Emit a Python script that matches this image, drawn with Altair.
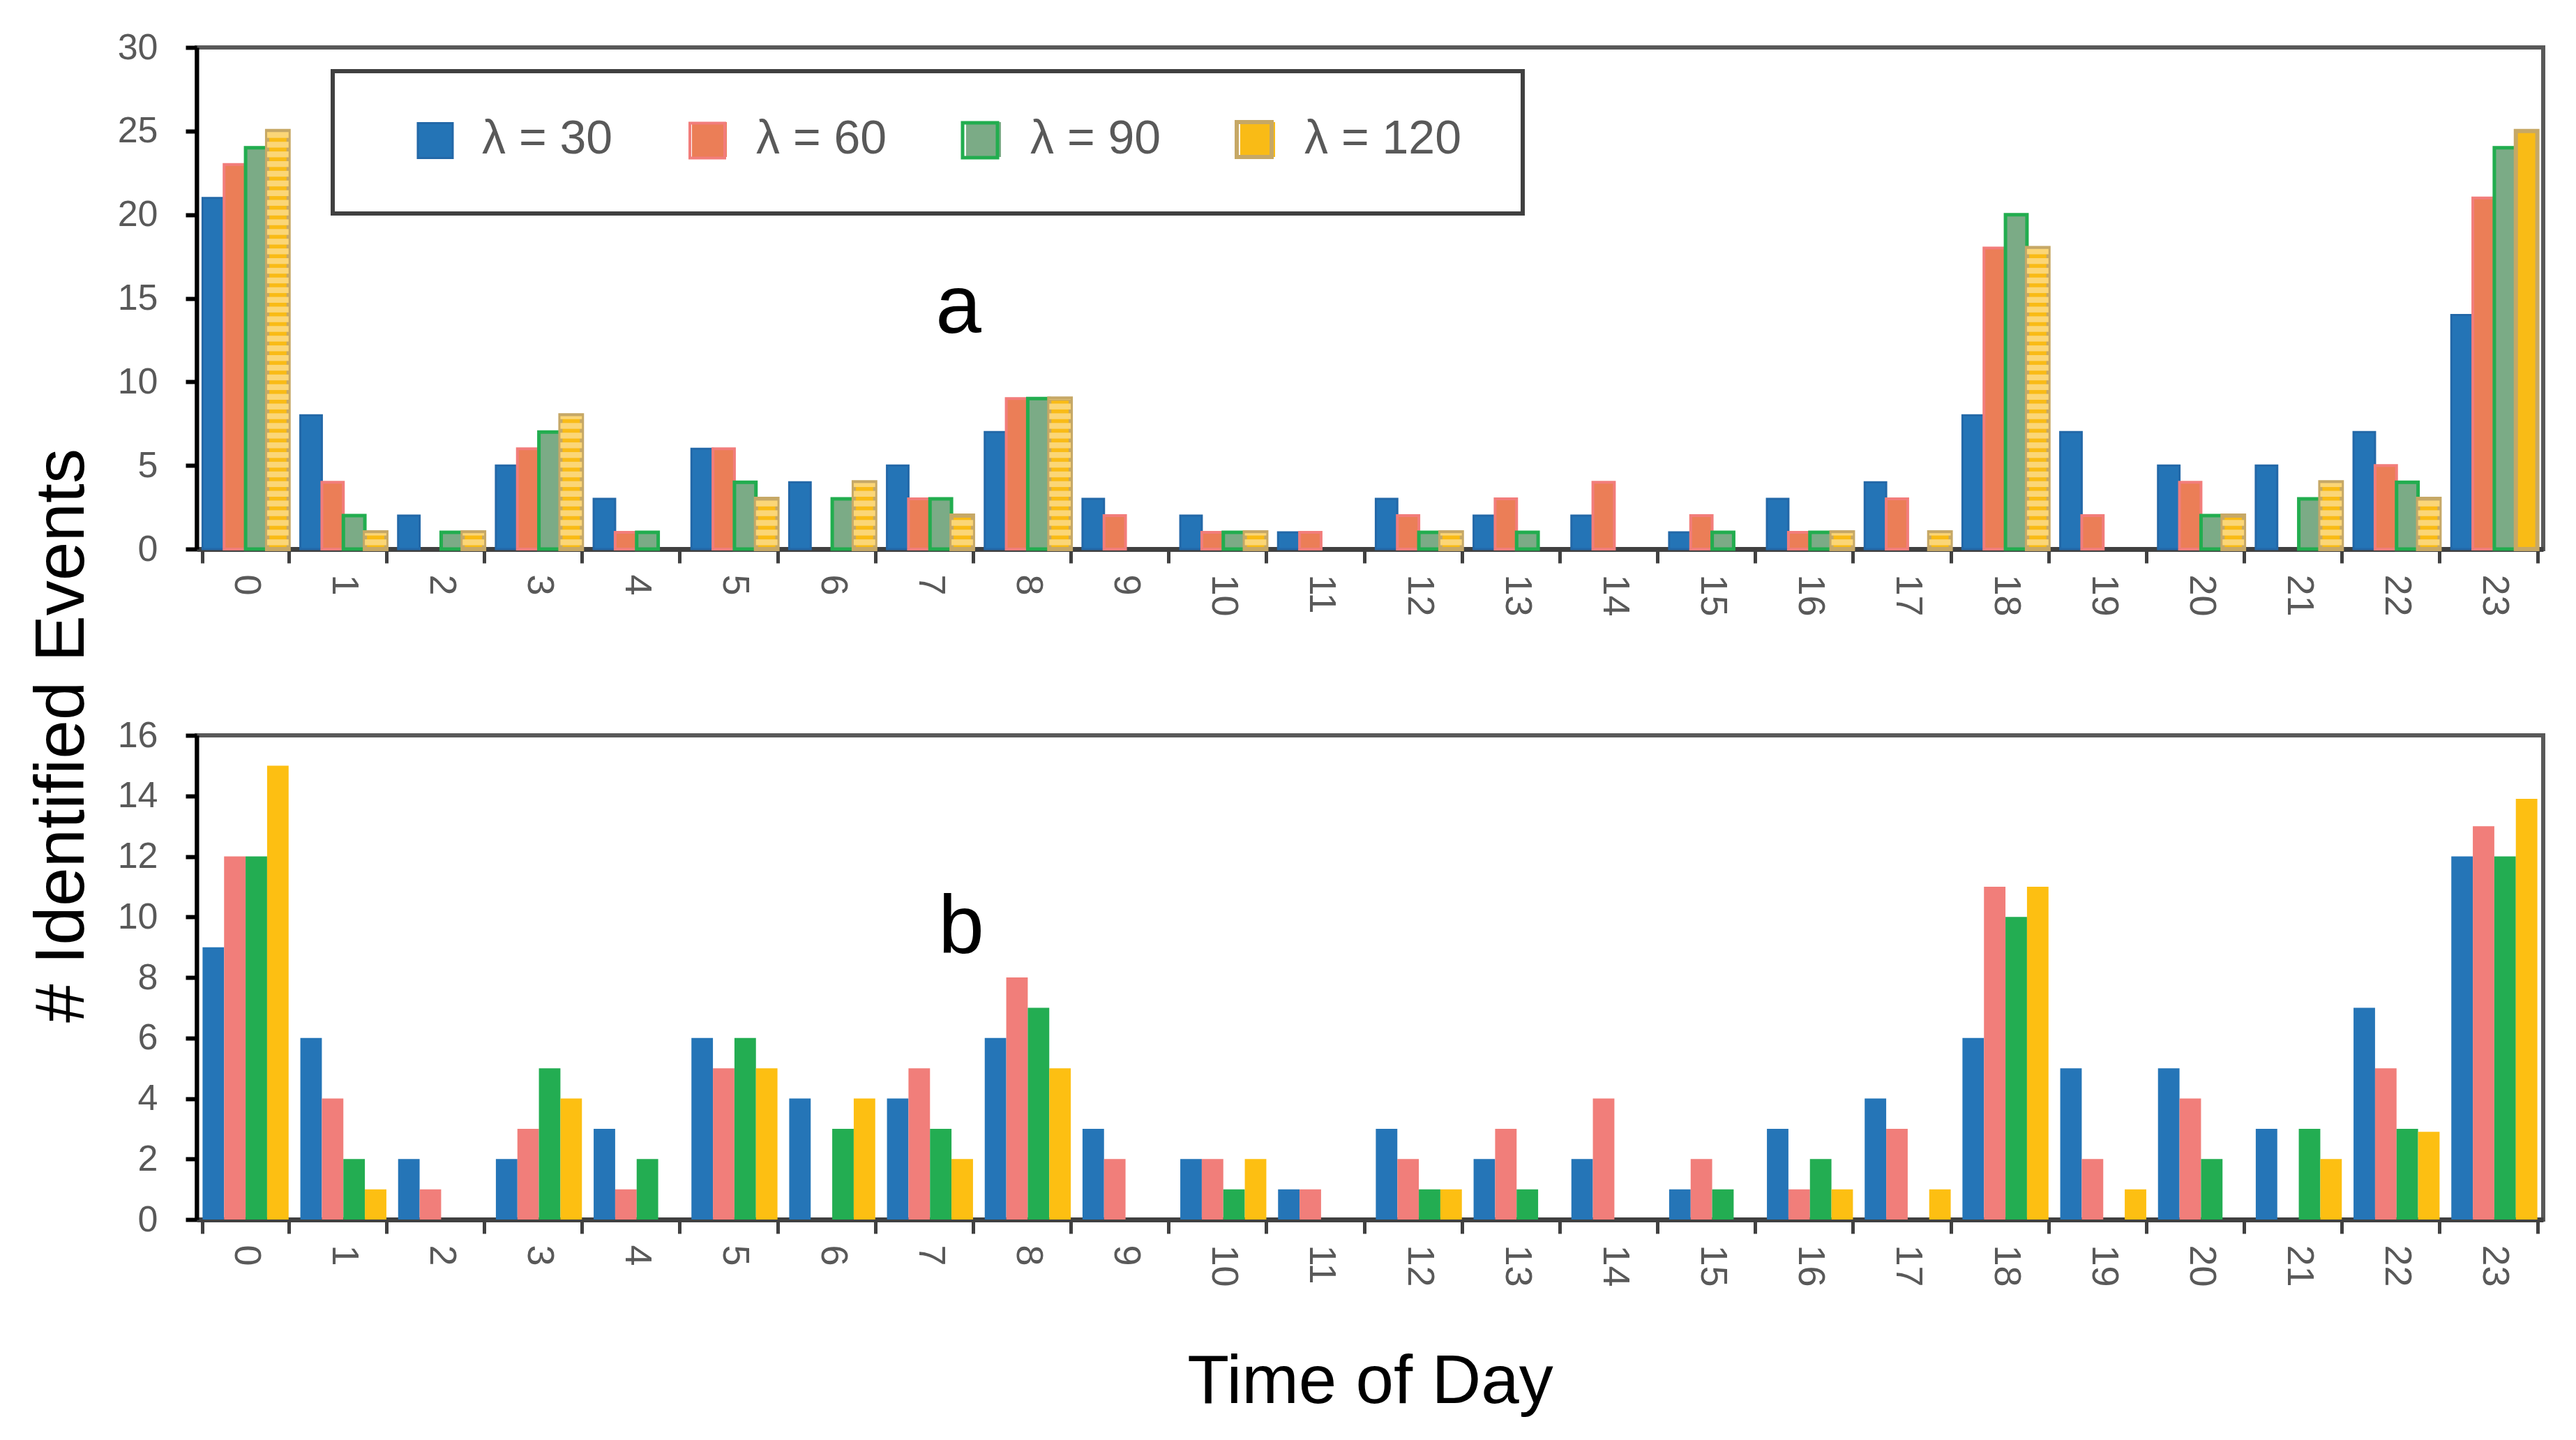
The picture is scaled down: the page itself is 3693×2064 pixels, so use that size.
import altair as alt
import pandas as pd

# ---------------- data ----------------
hours = list(range(24))
series = ["λ = 30", "λ = 60", "λ = 90", "λ = 120"]

# panel a
a_l30 = [21, 8, 2, 5, 3, 6, 4, 5, 7, 3, 2, 1, 3, 2, 2, 1, 3, 4, 8, 7, 5, 5, 7, 14]
a_l60 = [23, 4, 0, 6, 1, 6, 0, 3, 9, 2, 1, 1, 2, 3, 4, 2, 1, 3, 18, 2, 4, 0, 5, 21]
a_l90 = [24, 2, 1, 7, 1, 4, 3, 3, 9, 0, 1, 0, 1, 1, 0, 1, 1, 0, 20, 0, 2, 3, 4, 24]
a_l120 = [25, 1, 1, 8, 0, 3, 4, 2, 9, 0, 1, 0, 1, 0, 0, 0, 1, 1, 18, 0, 2, 4, 3, 25]

# panel b
b_l30 = [9, 6, 2, 2, 3, 6, 4, 4, 6, 3, 2, 1, 3, 2, 2, 1, 3, 4, 6, 5, 5, 3, 7, 12]
b_l60 = [12, 4, 1, 3, 1, 5, 0, 5, 8, 2, 2, 1, 2, 3, 4, 2, 1, 3, 11, 2, 4, 0, 5, 13]
b_l90 = [12, 2, 0, 5, 2, 6, 3, 3, 7, 0, 1, 0, 1, 1, 0, 1, 2, 0, 10, 0, 2, 3, 3, 12]
b_l120 = [15, 1, 0, 4, 0, 5, 4, 2, 5, 0, 2, 0, 1, 0, 0, 0, 1, 1, 11, 1, 0, 2, 2.9, 13.9]

a_ticks = [0, 5, 10, 15, 20, 25, 30]
b_ticks = [0, 2, 4, 6, 8, 10, 12, 14, 16]
panel_labels = ["a", "b"]
x_title = "Time of Day"
y_title = "# Identified Events"


def long_table(cols):
    rows = []
    for s, vals in zip(series, cols):
        for h, v in zip(hours, vals):
            rows.append({"hour": h, "series": s, "value": v})
    return pd.DataFrame(rows)


df_a = long_table([a_l30, a_l60, a_l90, a_l120])
df_b = long_table([b_l30, b_l60, b_l90, b_l120])

# ---------------- styling ----------------
SANS = "Liberation Sans, Arial, sans-serif"
GRAY = "#595959"

a_fill = ["#2474b6", "#eb7e57", "#7bab86", "#f9bb16"]
a_stroke = ["#2368a8", "#f27d7b", "#22ad4f", "#c6a866"]
a_strokew = [3, 6, 7, 2]
b_fill = ["#2575b7", "#f17e7a", "#23ad52", "#fdbf12"]

W = 3364
H_A = 719
H_B = 694


def x_enc(title=None, **extra):
    return alt.X(
        "hour:O",
        scale=alt.Scale(paddingInner=0.12, paddingOuter=0.06),
        axis=alt.Axis(
            title=title,
            labelAngle=90,
            tickBand="extent",
            domainColor="#404040",
            domainWidth=7,
            tickColor="#404040",
            tickWidth=5,
            tickSize=20,
            labelPadding=16,
            labelFont=SANS,
            labelFontSize=54,
            labelColor=GRAY,
            **extra,
        ),
    )


def y_enc(domain, ticks, title=None, **extra):
    return alt.Y(
        "value:Q",
        scale=alt.Scale(domain=domain, nice=False),
        axis=alt.Axis(
            title=title,
            values=ticks,
            grid=False,
            domainColor="black",
            domainWidth=6,
            tickColor="black",
            tickWidth=6,
            tickSize=16,
            labelPadding=40,
            labelFont=SANS,
            labelFontSize=52,
            labelColor=GRAY,
            **extra,
        ),
    )


xoff = alt.XOffset(
    "series:N", sort=series,
    scale=alt.Scale(domain=series, paddingInner=0, paddingOuter=0),
)

legend_common = dict(
    title=None,
    orient="none",
    legendX=308,
    legendY=98,
    direction="horizontal",
    columns=4,
    symbolType="square",
    symbolSize=2500,
    symbolStrokeWidth=6,
    labelFont=SANS,
    labelFontSize=68,
    labelColor=GRAY,
    labelOffset=33,
    labelLimit=600,
    columnPadding=101,
    padding=0,
)
# fill swatches (with labels) and, drawn over them, the coloured outlines
legend_fill = alt.Legend(symbolStrokeColor="transparent", **legend_common)
legend_stroke = alt.Legend(symbolFillColor="transparent", labelOpacity=0, **legend_common)

# ---------------- panel a ----------------
bars_a = (
    alt.Chart(df_a)
    .transform_filter("datum.value > 0")
    .mark_bar()
    .encode(
        x=x_enc(),
        xOffset=xoff,
        y=y_enc([0, 30], a_ticks),
        fill=alt.Fill("series:N", sort=series,
                      scale=alt.Scale(domain=series, range=a_fill), legend=legend_fill),
        stroke=alt.Stroke("series:N", sort=series,
                          scale=alt.Scale(domain=series, range=a_stroke), legend=legend_stroke),
        strokeWidth=alt.StrokeWidth("series:N",
                                    scale=alt.Scale(domain=series, range=a_strokew),
                                    legend=None),
    )
)

stripes_a = (
    alt.Chart(df_a)
    .transform_filter("datum.series == 'λ = 120' && datum.hour < 23 && datum.value > 0")
    .transform_calculate(s="sequence(0, datum.value, 0.58)")
    .transform_flatten(["s"])
    .transform_calculate(y1="datum.s + 0.23", y2="min(datum.s + 0.58, datum.value - 0.05)")
    .transform_filter("datum.y2 > datum.y1")
    .mark_bar(fill="#fbd677")
    .encode(
        x=x_enc(),
        xOffset=xoff,
        y=alt.Y("y1:Q"),
        y2="y2:Q",
    )
)

# frame around the legend
legend_box = (
    alt.Chart(pd.DataFrame({"k": [0]}))
    .mark_rect(fill=None, stroke="#404040", strokeWidth=6)
    .encode(x=alt.value(195), x2=alt.value(1901), y=alt.value(34), y2=alt.value(238))
)

label_a = (
    alt.Chart(pd.DataFrame({"t": [panel_labels[0]]}))
    .mark_text(font=SANS, fontSize=118, color="black", align="center", baseline="alphabetic")
    .encode(x=alt.value(1092), y=alt.value(409), text="t:N")
)

top = alt.layer(bars_a, stripes_a, legend_box, label_a).properties(width=W, height=H_A)

# ---------------- panel b ----------------
bars_b = (
    alt.Chart(df_b)
    .transform_filter("datum.value > 0")
    .mark_bar()
    .encode(
        x=x_enc(
            title=x_title,
            titleFont=SANS,
            titleFontSize=98,
            titleFontWeight="normal",
            titleColor="black",
            titleY=262,
            titleBaseline="alphabetic",
        ),
        xOffset=xoff,
        y=y_enc(
            [0, 16], b_ticks,
            title=y_title,
            titleFont=SANS,
            titleFontSize=100,
            titleFontWeight="normal",
            titleColor="black",
            titleX=-163,
            titleY=0,
            titleAngle=270,
            titleAlign="center",
            titleBaseline="alphabetic",
        ),
        fill=alt.Fill("series:N", sort=series,
                      scale=alt.Scale(domain=series, range=b_fill), legend=None),
    )
)

label_b = (
    alt.Chart(pd.DataFrame({"t": [panel_labels[1]]}))
    .mark_text(font=SANS, fontSize=118, color="black", align="center", baseline="alphabetic")
    .encode(x=alt.value(1096), y=alt.value(312), text="t:N")
)

bottom = alt.layer(bars_b, label_b).properties(width=W, height=H_B)

chart = (
    alt.vconcat(top, bottom, spacing=267, bounds="flush")
    .resolve_scale(fill="independent", x="independent", y="independent", xOffset="independent")
    .properties(padding={"left": 27, "top": 31, "right": 10, "bottom": 10}, background="white")
    .configure_view(stroke=GRAY, strokeWidth=6)
    .configure_axis(grid=False)
)

chart.save("out.html", embed_options={"renderer": "svg", "actions": False})
